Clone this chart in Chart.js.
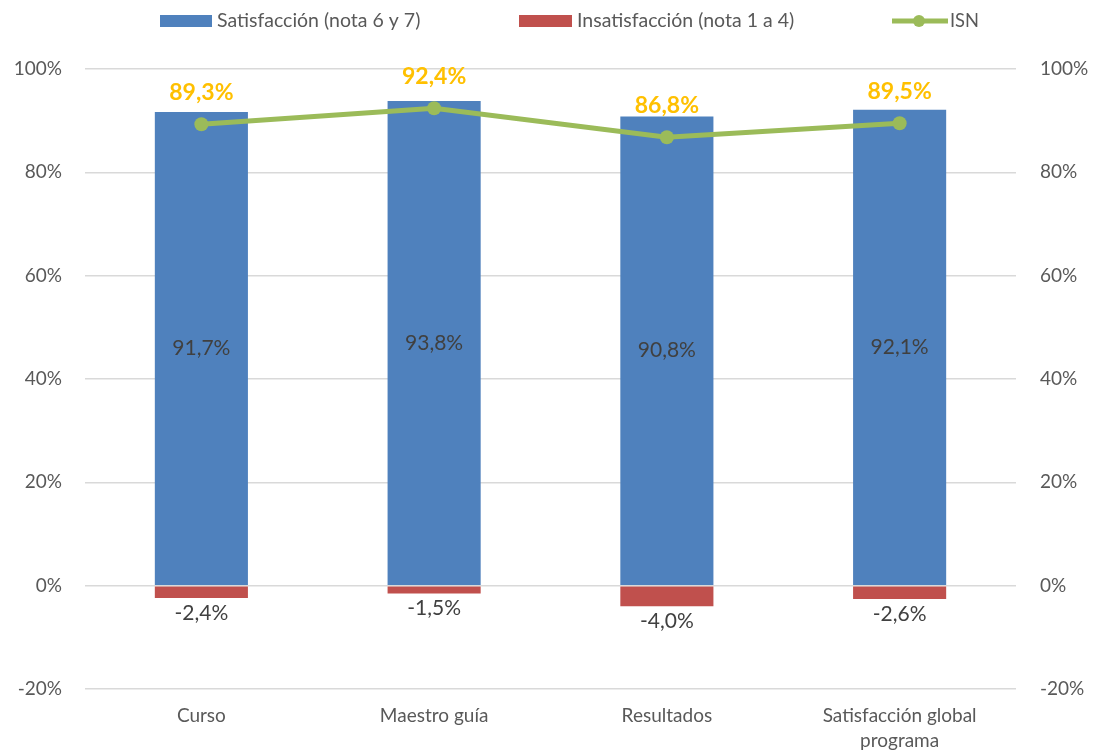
<!DOCTYPE html>
<html>
<head>
<meta charset="utf-8">
<script src="https://cdn.jsdelivr.net/npm/chart.js@4.4.0/dist/chart.umd.min.js"></script>
<style>
  html, body { margin: 0; padding: 0; background: #ffffff; }
  #wrap { width: 1094px; height: 753px; position: relative; }
</style>
</head>
<body>
<div id="wrap"><canvas id="c" width="1094" height="753"></canvas></div>
<script>
const categories = ["Curso", "Maestro guía", "Resultados", ["Satisfacción global", "programa"]];
const satisfaccion = [91.7, 93.8, 90.8, 92.1];
const insatisfaccion = [-2.4, -1.5, -4.0, -2.6];
const isn = [89.3, 92.4, 86.8, 89.5];
const yTicks = { min: -20, max: 100, step: 20 };
const seriesNames = ["Satisfacción (nota 6 y 7)", "Insatisfacción (nota 1 a 4)", "ISN"];

const FONT = "Lato, 'Open Sans', sans-serif";
const BLUE = "#4F81BD", RED = "#C0504D", GREEN = "#9BBB59", GOLD = "#FFC000";
const TXT = "#595959", LBL = "#404040";

function fmt(v) { return v.toFixed(1).replace('.', ',') + '%'; }

const labelPlugin = {
  id: 'valueLabels',
  afterDatasetsDraw(chart) {
    const ctx = chart.ctx;
    ctx.save();
    ctx.textAlign = 'center';
    ctx.textBaseline = 'middle';
    const m0 = chart.getDatasetMeta(0);
    ctx.font = "21px " + FONT;
    ctx.fillStyle = LBL;
    m0.data.forEach((el, i) => {
      const p = el.getProps(['x', 'y', 'base'], true);
      ctx.fillText(fmt(satisfaccion[i]), p.x, (p.y + p.base) / 2);
    });
    const m1 = chart.getDatasetMeta(1);
    m1.data.forEach((el, i) => {
      const p = el.getProps(['x', 'y', 'base'], true);
      ctx.fillText(fmt(insatisfaccion[i]), p.x, Math.max(p.y, p.base) + 15);
    });
    const m2 = chart.getDatasetMeta(2);
    ctx.font = "bold 23px " + FONT;
    ctx.fillStyle = GOLD;
    m2.data.forEach((el, i) => {
      ctx.fillText(fmt(isn[i]), el.x, el.y - 32);
    });
    ctx.restore();
  }
};

function fitText(ctx, text, x, y, targetW) {
  const w = ctx.measureText(text).width;
  const s = Math.min(1, targetW / w);
  ctx.save();
  ctx.translate(x, y);
  ctx.scale(s, 1);
  ctx.fillText(text, 0, 0);
  ctx.restore();
}

const legendPlugin = {
  id: 'customLegend',
  afterDraw(chart) {
    const ctx = chart.ctx;
    ctx.save();
    ctx.font = "19.5px " + FONT;
    ctx.textBaseline = 'middle';
    ctx.textAlign = 'left';
    const y = 21;
    ctx.fillStyle = BLUE;
    ctx.fillRect(160, y - 6, 52, 12);
    ctx.fillStyle = TXT;
    fitText(ctx, seriesNames[0], 217, y, 204);
    ctx.fillStyle = RED;
    ctx.fillRect(519, y - 6, 53, 12);
    ctx.fillStyle = TXT;
    fitText(ctx, seriesNames[1], 577, y, 221);
    ctx.strokeStyle = GREEN;
    ctx.lineWidth = 5;
    ctx.beginPath();
    ctx.moveTo(892, y);
    ctx.lineTo(948, y);
    ctx.stroke();
    ctx.fillStyle = GREEN;
    ctx.beginPath();
    ctx.arc(919, y, 6, 0, Math.PI * 2);
    ctx.fill();
    ctx.fillStyle = TXT;
    fitText(ctx, seriesNames[2], 950, y, 29);
    ctx.restore();
  }
};

new Chart(document.getElementById('c'), {
  data: {
    labels: categories,
    datasets: [
      { type: 'bar', label: seriesNames[0], data: satisfaccion, backgroundColor: BLUE, yAxisID: 'y', order: 2 },
      { type: 'bar', label: seriesNames[1], data: insatisfaccion, backgroundColor: RED, yAxisID: 'y', order: 2 },
      { type: 'line', label: seriesNames[2], data: isn, borderColor: GREEN, backgroundColor: GREEN,
        borderWidth: 5, pointRadius: 7, pointHoverRadius: 7, pointBackgroundColor: GREEN,
        pointBorderWidth: 0, tension: 0, yAxisID: 'y2', order: 1 }
    ]
  },
  options: {
    responsive: false,
    animation: false,
    layout: { padding: { top: 69, left: 0, right: 0, bottom: 0 } },
    plugins: { legend: { display: false }, tooltip: { enabled: false } },
    datasets: { bar: { barPercentage: 0.4, categoryPercentage: 1.0 } },
    scales: {
      x: {
        stacked: true,
        grid: { display: false, drawTicks: false },
        border: { display: false },
        ticks: { color: TXT, font: { family: FONT, size: 19, lineHeight: 1.3 }, padding: 15, maxRotation: 0, autoSkip: false },
        afterFit(s) { s.height = 64; }
      },
      y: {
        stacked: true,
        position: 'left',
        min: yTicks.min, max: yTicks.max,
        grid: { color: '#D9D9D9', lineWidth: 1.5, drawTicks: false },
        border: { display: false },
        ticks: { stepSize: yTicks.step, color: TXT, font: { family: FONT, size: 19 }, padding: 23,
          callback: v => v + '%' },
        afterFit(s) { s.width = 85; }
      },
      y2: {
        position: 'right',
        min: yTicks.min, max: yTicks.max,
        grid: { display: false, drawTicks: false },
        border: { display: false },
        ticks: { stepSize: yTicks.step, color: TXT, font: { family: FONT, size: 19 }, padding: 24,
          callback: v => v + '%' },
        afterFit(s) { s.width = 78; }
      }
    }
  },
  plugins: [labelPlugin, legendPlugin]
});
</script>
</body>
</html>
